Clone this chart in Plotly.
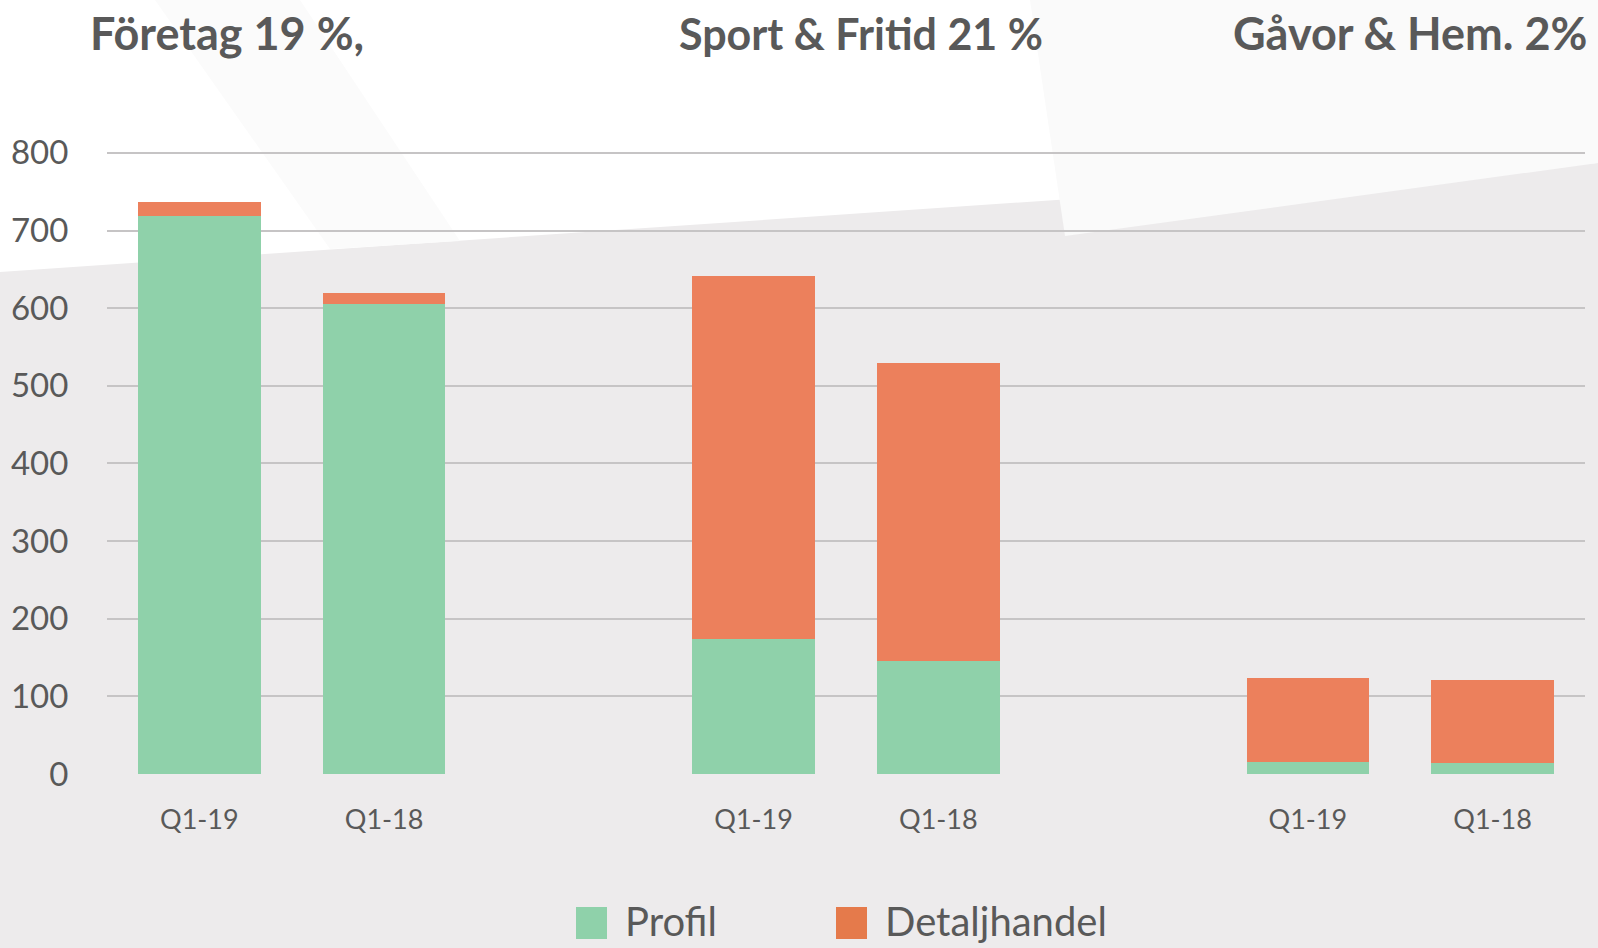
import plotly.graph_objects as go

# ---- data ----
groups = ["Företag 19 %,", "Sport & Fritid 21 %", "Gåvor & Hem. 2%"]
periods = ["Q1-19", "Q1-18"]
series_names = ["Profil", "Detaljhandel"]
profil = [719, 605, 174, 145, 16, 14]
detaljhandel = [18, 15, 468, 385, 108, 107]
y_ticks = [0, 100, 200, 300, 400, 500, 600, 700, 800]

colors = ["#8FD1AA", "#EC805C"]
legend_colors = ["#8FD1AA", "#E57A4B"]
text_col = "#595959"

W, H = 1598, 948
ml, mr, mt, mb = 107, 13, 149, 174
pw, ph = W - ml - mr, H - mt - mb


def fx(x):
    return (x - ml) / pw


def fy(y):
    return (H - mb - y) / ph


# x slot for each bar: group gap of one empty slot
xs, labels = [], []
for gi, g in enumerate(groups):
    for pi, p in enumerate(periods):
        xs.append(gi * (len(periods) + 1) + pi)
        labels.append(p)

fig = go.Figure()
for name, vals, c in zip(series_names, [profil, detaljhandel], colors):
    fig.add_trace(go.Bar(x=xs, y=vals, name=name, marker=dict(color=c, line=dict(width=0)),
                         showlegend=False, hoverinfo="skip"))

shapes = []
# background white top region with diagonal boundary
shapes.append(dict(type="path", xref="paper", yref="paper", layer="below",
                   path=f"M {fx(0)},{fy(0)} L {fx(W)},{fy(0)} L {fx(W)},{fy(163)} L {fx(0)},{fy(272)} Z",
                   fillcolor="#FFFFFF", line=dict(width=0)))
# faint textured areas
shapes.append(dict(type="path", xref="paper", yref="paper", layer="below",
                   path=f"M {fx(1030)},{fy(0)} L {fx(W)},{fy(0)} L {fx(W)},{fy(163)} L {fx(1065)},{fy(236)} Z",
                   fillcolor="#FAFAFA", line=dict(width=0)))
shapes.append(dict(type="path", xref="paper", yref="paper", layer="below",
                   path=f"M {fx(155)},{fy(0)} L {fx(300)},{fy(0)} L {fx(460)},{fy(241)} L {fx(330)},{fy(249)} Z",
                   fillcolor="#FBFBFB", line=dict(width=0)))

annotations = []
title_x = [88, 677, 1231]
title_size = [45, 43, 45]
for g, x0, s in zip(groups, title_x, title_size):
    annotations.append(dict(text=f"<b>{g}</b>", x=fx(x0), y=fy(33), xref="paper", yref="paper",
                            xanchor="left", yanchor="middle", showarrow=False,
                            font=dict(family="Lato", size=s, color=text_col)))

# legend (manual, large swatches)
leg_sq = [576, 836]
for name, c, x0 in zip(series_names, legend_colors, leg_sq):
    shapes.append(dict(type="rect", xref="paper", yref="paper", layer="above",
                       x0=fx(x0), x1=fx(x0 + 31), y0=fy(939), y1=fy(907),
                       fillcolor=c, line=dict(width=0)))
    annotations.append(dict(text=name, x=fx(x0 + 47), y=fy(921), xref="paper", yref="paper",
                            xanchor="left", yanchor="middle", showarrow=False,
                            font=dict(family="Lato", size=40, color=text_col)))

fig.update_layout(
    width=W, height=H,
    margin=dict(l=ml, r=mr, t=mt, b=mb, pad=0),
    barmode="stack", bargap=0.337,
    paper_bgcolor="#EDEBEC", plot_bgcolor="rgba(0,0,0,0)",
    shapes=shapes, annotations=annotations,
    xaxis=dict(range=[-0.5, 7.5], tickmode="array", tickvals=xs, ticktext=labels,
               showgrid=False, zeroline=False, showline=False,
               ticks="outside", ticklen=22, tickcolor="rgba(0,0,0,0)",
               tickfont=dict(family="Lato", size=27, color=text_col)),
    yaxis=dict(range=[0, 805], tickmode="array", tickvals=y_ticks,
               showgrid=True, gridcolor="#C6C4C5", gridwidth=2,
               zeroline=False, showline=False,
               ticks="outside", ticklen=31, tickcolor="rgba(0,0,0,0)",
               tickfont=dict(family="Lato", size=33, color=text_col)),
)

fig.write_html("out.html", config={"displayModeBar": False},
               post_script="document.body.style.margin='0';document.body.style.overflow='hidden';")
